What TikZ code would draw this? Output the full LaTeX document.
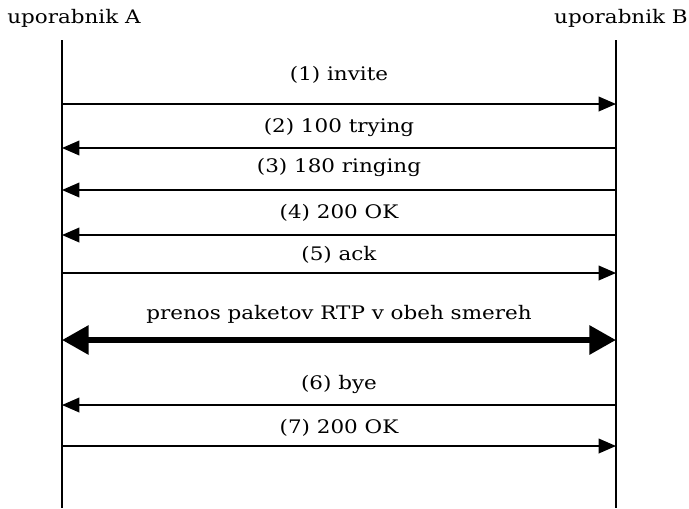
\documentclass[tikz,border=0pt]{standalone}
\usepackage{fontspec}
\setmainfont{DejaVu Serif}[FakeStretch=1.15]
\usetikzlibrary{arrows.meta}
\begin{document}
\begin{tikzpicture}[x=0.75pt,y=-0.75pt,
  lbl/.style={font=\fontsize{14}{16}\selectfont, inner sep=0pt},
  life/.style={line width=1.1pt},
  msg/.style={line width=1.1pt,-{Triangle[length=13pt,width=11pt]}},
  big/.style={line width=4.5pt,{Triangle[length=20pt,width=21pt]}-{Triangle[length=20pt,width=21pt]}}]
\useasboundingbox (0,0) rectangle (689,508);
\node[lbl] (A) at (74,18) {uporabnik A};
\node[lbl] (B) at (621,18) {uporabnik B};
\coordinate (At) at (62,40); \coordinate (Ab) at (62,508);
\coordinate (Bt) at (616,40); \coordinate (Bb) at (616,508);
\draw[life] (At) -- (Ab);
\draw[life] (Bt) -- (Bb);
\foreach \n/\y in {a1/104,a2/148,a3/190,a4/235,a5/273,a6/340,a7/405,a8/446}{
  \coordinate (L\n) at (62,\y); \coordinate (R\n) at (616,\y);}
\draw[msg] (La1) -- (Ra1);
\draw[msg] (Ra2) -- (La2);
\draw[msg] (Ra3) -- (La3);
\draw[msg] (Ra4) -- (La4);
\draw[msg] (La5) -- (Ra5);
\draw[big] (La6) -- (Ra6);
\draw[msg] (Ra7) -- (La7);
\draw[msg] (La8) -- (Ra8);
\node[lbl] (m1) at (339,75) {(1) invite};
\node[lbl] (m2) at (339,127) {(2) 100 trying};
\node[lbl] (m3) at (339,167) {(3) 180 ringing};
\node[lbl] (m4) at (339,213) {(4) 200 OK};
\node[lbl] (m5) at (339,255) {(5) ack};
\node[lbl] (m6) at (339,314) {prenos paketov RTP v obeh smereh};
\node[lbl] (m7) at (339,384) {(6) bye};
\node[lbl] (m8) at (339,428) {(7) 200 OK};
\end{tikzpicture}
\end{document}
